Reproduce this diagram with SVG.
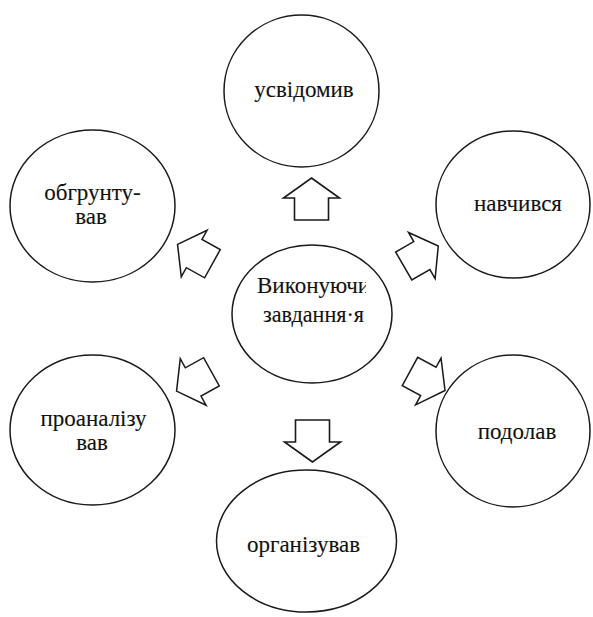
<svg xmlns="http://www.w3.org/2000/svg" width="593" height="617" viewBox="0 0 593 617">
  <style>
    .node ellipse { fill: #ffffff; stroke: #1a1a1a; stroke-width: 1.5; }
    .node text { font-family: "Liberation Serif", "DejaVu Serif", serif; font-size: 23px; fill: #111111; stroke: #111111; stroke-width: 0.12; }
    .arrow { fill: #ffffff; stroke: #1a1a1a; stroke-width: 1.6; stroke-linejoin: miter; }
  </style>
  <defs>
    <!-- block arrow pointing up, centred on the origin -->
    <path id="blockArrow" d="M0,-21 L28,-1 L17,-1 L17,21 L-17,21 L-17,-1 L-28,-1 Z"/>
    <clipPath id="centerClip">
      <rect x="232" y="245" width="134" height="138"/>
    </clipPath>
  </defs>

  <rect width="593" height="617" fill="#ffffff"/>

  <g id="node-center" class="node">
    <ellipse cx="312" cy="314" rx="80" ry="69"/>
    <g clip-path="url(#centerClip)">
      <text x="257" y="293">Виконуючи</text>
      <text x="263" y="322" textLength="101" lengthAdjust="spacingAndGlyphs">завдання·я</text>
    </g>
  </g>

  <g id="node-top" class="node">
    <ellipse cx="301.5" cy="91" rx="77.5" ry="76"/>
    <text x="304" y="97" text-anchor="middle">усвідомив</text>
  </g>

  <g id="node-upper-left" class="node">
    <ellipse cx="92.5" cy="206" rx="82.5" ry="76"/>
    <text x="92.5" y="200" text-anchor="middle">обгрунту-</text>
    <text x="91" y="224" text-anchor="middle">вав</text>
  </g>

  <g id="node-upper-right" class="node">
    <ellipse cx="513" cy="204.5" rx="77" ry="73.5"/>
    <text x="518" y="211" text-anchor="middle">навчився</text>
  </g>

  <g id="node-lower-left" class="node">
    <ellipse cx="92.5" cy="430" rx="82.5" ry="75"/>
    <text x="93.5" y="426" text-anchor="middle">проаналізу</text>
    <text x="92" y="450" text-anchor="middle">вав</text>
  </g>

  <g id="node-lower-right" class="node">
    <ellipse cx="513" cy="431" rx="77" ry="76"/>
    <text x="517" y="439" text-anchor="middle">подолав</text>
  </g>

  <g id="node-bottom" class="node">
    <ellipse cx="306.5" cy="541" rx="90" ry="71"/>
    <text x="303.5" y="552" text-anchor="middle">організував</text>
  </g>

  <g id="connectors" class="arrow">
    <use href="#blockArrow" transform="translate(311.5,199)"/>
    <use href="#blockArrow" transform="translate(312.5,441) rotate(180)"/>
    <use href="#blockArrow" transform="translate(195,254) rotate(-61) scale(0.95)"/>
    <use href="#blockArrow" transform="translate(421,256) rotate(60) scale(0.95)"/>
    <use href="#blockArrow" transform="translate(194,381.5) rotate(-119) scale(0.95)"/>
    <use href="#blockArrow" transform="translate(427.5,381) rotate(118.5) scale(0.95)"/>
  </g>
</svg>
